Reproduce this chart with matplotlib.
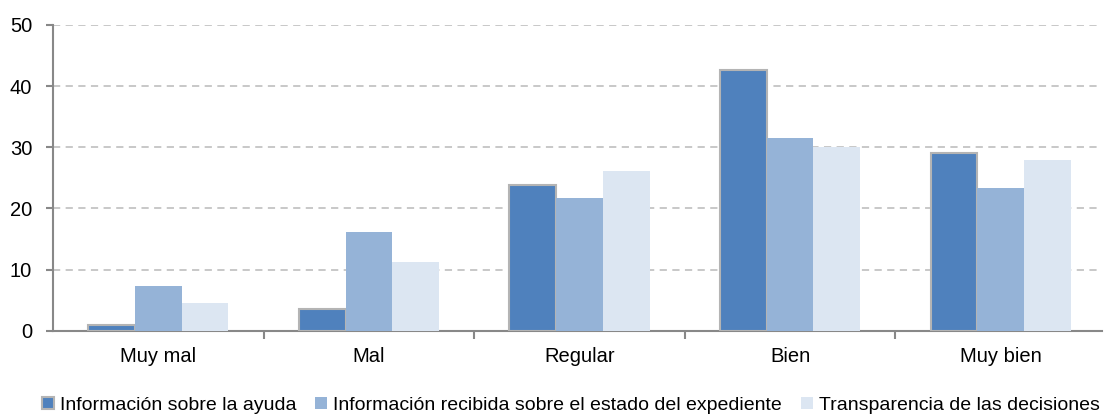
import numpy as np
import matplotlib.pyplot as plt
from matplotlib.patches import Patch

categorias = ['Muy mal', 'Mal', 'Regular', 'Bien', 'Muy bien']
series = ['Información sobre la ayuda',
          'Información recibida sobre el estado del expediente',
          'Transparencia de las decisiones']
info_ayuda = [0.9, 3.6, 23.8, 42.6, 29.1]
info_expediente = [7.3, 16.2, 21.7, 31.5, 23.4]
transparencia = [4.5, 11.2, 26.1, 30.1, 27.9]

cores = ['#4F81BD', '#95B3D7', '#DCE6F2']
bordas = ['#b4b4b4', 'none', 'none']

plt.rcParams['font.family'] = ['Liberation Sans', 'DejaVu Sans']
fs = 14.5

fig = plt.figure(figsize=(11.04, 4.16), dpi=100)
ax = fig.add_axes([0.048, 0.205, 0.95, 0.735])

x = np.arange(len(categorias))
w = 0.222
valores = [info_ayuda, info_expediente, transparencia]
for k, vals in enumerate(valores):
    ax.bar(x + (k - 1) * w, vals, width=w, color=cores[k],
           edgecolor=bordas[k], linewidth=1.5 if k == 0 else 0, zorder=3)

ax.set_xlim(-0.5, 4.48)
ax.set_ylim(0, 50)
ax.set_yticks(range(0, 51, 10))
ax.yaxis.grid(True, linestyle=(0, (4, 3)), color='#c4c4c4', linewidth=1.3, zorder=0)

ax.set_xticks(x)
ax.set_xticklabels(categorias, fontsize=fs)
ax.set_xticks(np.arange(0.5, 4.5, 1), minor=True)
ax.tick_params(axis='x', which='major', length=0, pad=12)
ax.tick_params(axis='x', which='minor', length=6, width=1.5, color='#888888')
ax.tick_params(axis='y', length=5, width=1.5, color='#888888', labelsize=fs, pad=10)

for s in ['top', 'right']:
    ax.spines[s].set_visible(False)
for s in ['left', 'bottom']:
    ax.spines[s].set_color('#888888')
    ax.spines[s].set_linewidth(1.5)

handles = [Patch(facecolor=cores[k], edgecolor=bordas[k], linewidth=1.5 if k == 0 else 0)
           for k in range(3)]
fig.legend(handles, series, loc='lower center', bbox_to_anchor=(0.517, -0.037), ncol=3,
           frameon=False, fontsize=14, handlelength=0.6, handleheight=0.6,
           handletextpad=0.3, columnspacing=1.0)

fig.savefig('out.png', dpi=100)
